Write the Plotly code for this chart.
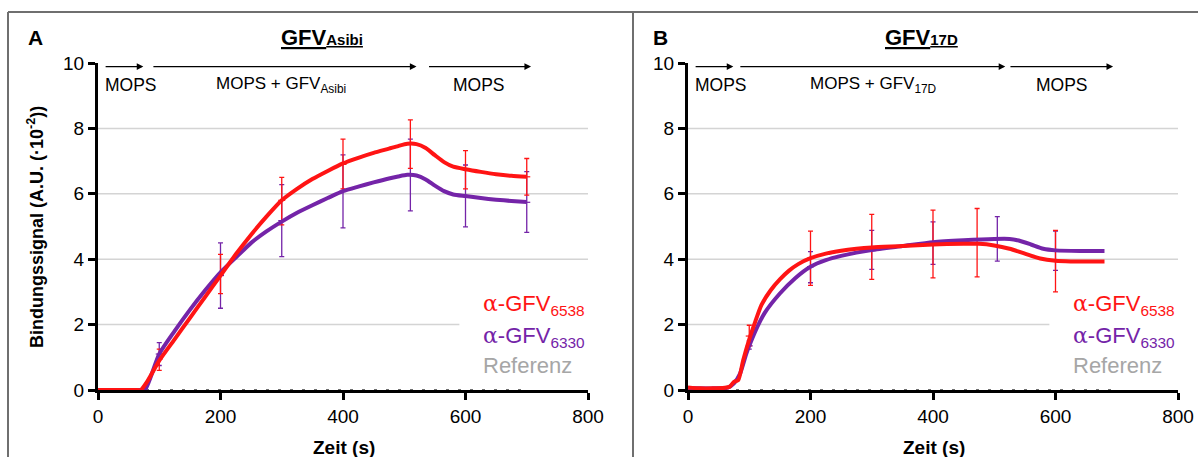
import numpy as np
import plotly.graph_objects as go

# ---------------- data ----------------
# Panel A (GFV Asibi)
a_red_t = [0, 20, 40, 60, 70, 80, 100, 125, 150, 175, 200, 225, 250, 275, 300, 325, 350, 375, 400,
           425, 450, 475, 490, 505, 520, 535, 550, 565, 580, 600, 625, 650, 675, 700]
a_red_v = [0, 0, 0, 0, 0, 0.25, 0.9, 1.55, 2.2, 2.85, 3.5, 4.15, 4.75, 5.3, 5.8, 6.15, 6.45, 6.7, 6.93,
           7.1, 7.25, 7.38, 7.46, 7.53, 7.52, 7.4, 7.18, 6.97, 6.83, 6.75, 6.67, 6.6, 6.55, 6.52]
a_pur_t = [0, 40, 70, 78, 100, 125, 150, 175, 200, 225, 250, 275, 300, 325, 350, 375, 400,
           425, 450, 475, 490, 505, 520, 535, 550, 565, 580, 600, 625, 650, 675, 700]
a_pur_v = [0, 0, 0, 0.05, 1.1, 1.8, 2.45, 3.05, 3.6, 4.05, 4.5, 4.85, 5.15, 5.42, 5.65, 5.87, 6.08,
           6.22, 6.35, 6.47, 6.53, 6.58, 6.56, 6.44, 6.25, 6.08, 5.98, 5.93, 5.87, 5.82, 5.78, 5.75]

a_red_err_t = [100, 200, 300, 400, 510, 600, 700]
a_red_err_c = [0.95, 3.55, 5.8, 6.9, 7.52, 6.75, 6.52]
a_red_err_lo = [0.6, 2.95, 5.05, 6.15, 6.78, 6.15, 5.96]
a_red_err_hi = [1.25, 4.15, 6.5, 7.67, 8.26, 7.32, 7.08]
a_pur_err_t = [100, 200, 300, 400, 510, 600, 700]
a_pur_err_c = [1.1, 3.5, 5.18, 6.08, 6.57, 5.94, 5.74]
a_pur_err_lo = [0.75, 2.5, 4.08, 4.96, 5.48, 4.99, 4.82]
a_pur_err_hi = [1.45, 4.5, 6.28, 7.19, 7.67, 6.88, 6.68]

# Panel B (GFV 17D)
b_red_t = [0, 20, 40, 60, 68, 75, 82, 90, 100, 110, 120, 135, 150, 165, 180, 200, 225, 250, 275, 300,
           350, 400, 450, 475, 500, 525, 550, 575, 600, 625, 650, 680]
b_red_v = [0.08, 0.05, 0.05, 0.07, 0.1, 0.25, 0.3, 0.9, 1.55, 2.1, 2.6, 3.05, 3.38, 3.65, 3.85, 4.03,
           4.17, 4.26, 4.32, 4.36, 4.4, 4.45, 4.47, 4.47, 4.42, 4.32, 4.17, 4.02, 3.95, 3.93, 3.93, 3.93]
b_pur_t = [0, 40, 65, 75, 85, 95, 100, 110, 125, 150, 175, 200, 225, 250, 275, 300, 350, 400, 450,
           500, 525, 540, 560, 580, 600, 640, 680]
b_pur_v = [0.06, 0.05, 0.07, 0.2, 0.5, 1.1, 1.35, 1.8, 2.35, 2.95, 3.42, 3.77, 3.97, 4.1, 4.2, 4.28,
           4.4, 4.52, 4.58, 4.62, 4.62, 4.57, 4.45, 4.32, 4.27, 4.25, 4.25]

b_red_err_t = [100, 200, 300, 400, 472, 600]
b_red_err_c = [1.65, 4.03, 4.37, 4.46, 4.5, 3.94]
b_red_err_lo = [1.35, 3.2, 3.38, 3.43, 3.46, 3.0]
b_red_err_hi = [1.98, 4.86, 5.37, 5.5, 5.55, 4.88]
b_pur_err_t = [100, 200, 300, 400, 505, 600]
b_pur_err_c = [1.35, 3.77, 4.28, 4.5, 4.62, 4.26]
b_pur_err_lo = [1.25, 3.28, 3.69, 3.84, 3.94, 3.66]
b_pur_err_hi = [1.5, 4.23, 4.88, 5.14, 5.3, 4.86]

ref_t = [0, 700]
ref_v = [0, 0]

x_ticks = [0, 200, 400, 600, 800]
y_ticks = [0, 2, 4, 6, 8, 10]

# ---------------- styling ----------------
RED = "#ff1414"
PURPLE = "#7424a8"
GRAY = "#a6a6a6"
FONT = "Liberation Sans, Arial, sans-serif"
ALPHA = "<span style='font-family:DejaVu Serif, Liberation Serif, serif'>α</span>"

W, H = 1198, 457
xa = (98 / W, 588 / W)
xb = (688 / W, 1178 / W)
yd = (1 - 390 / H, 1 - 63 / H)

fig = go.Figure()


def add_panel(xref, yref, red_t, red_v, pur_t, pur_v, pe, re_):
    fig.add_trace(go.Scatter(x=ref_t, y=ref_v, mode="lines", xaxis=xref, yaxis=yref,
                             line=dict(color="#6e6e6e", width=2, dash="3px,9px"), showlegend=False))
    for (t, c, lo, hi), col in ((pe, PURPLE), (re_, RED)):
        c = np.array(c); lo = np.array(lo); hi = np.array(hi)
        fig.add_trace(go.Scatter(x=t, y=c, mode="markers", xaxis=xref, yaxis=yref,
                                 marker=dict(symbol="line-ew-open", size=5, color=col, line=dict(width=1.2, color=col)),
                                 error_y=dict(type="data", symmetric=False, array=hi - c, arrayminus=c - lo,
                                              color=col, thickness=1.3, width=2.5),
                                 showlegend=False))
    fig.add_trace(go.Scatter(x=pur_t, y=pur_v, mode="lines", xaxis=xref, yaxis=yref,
                             line=dict(color=PURPLE, width=4, shape="spline", smoothing=0.6), showlegend=False))
    fig.add_trace(go.Scatter(x=red_t, y=red_v, mode="lines", xaxis=xref, yaxis=yref,
                             line=dict(color=RED, width=4, shape="spline", smoothing=0.6), showlegend=False))


add_panel("x", "y", a_red_t, a_red_v, a_pur_t, a_pur_v,
          (a_pur_err_t, a_pur_err_c, a_pur_err_lo, a_pur_err_hi),
          (a_red_err_t, a_red_err_c, a_red_err_lo, a_red_err_hi))
add_panel("x2", "y2", b_red_t, b_red_v, b_pur_t, b_pur_v,
          (b_pur_err_t, b_pur_err_c, b_pur_err_lo, b_pur_err_hi),
          (b_red_err_t, b_red_err_c, b_red_err_lo, b_red_err_hi))

axis_common = dict(showline=True, linewidth=3, linecolor="black", ticks="outside", ticklen=7,
                   tickwidth=2.5, tickcolor="black", showgrid=False, zeroline=False, automargin=False,
                   tickfont=dict(family=FONT, size=19, color="black"), layer="below traces", fixedrange=True)

fig.update_layout(
    width=W, height=H, autosize=False, margin=dict(l=0, r=0, t=0, b=0, pad=0, autoexpand=False),
    paper_bgcolor="white", plot_bgcolor="white", showlegend=False,
    font=dict(family=FONT, color="black"),
    xaxis=dict(domain=xa, range=[0, 800], tickvals=x_ticks, anchor="y", **axis_common),
    yaxis=dict(domain=yd, range=[0, 10], tickvals=y_ticks, anchor="x", **axis_common),
    xaxis2=dict(domain=xb, range=[0, 800], tickvals=x_ticks, anchor="y2", **axis_common),
    yaxis2=dict(domain=yd, range=[0, 10], tickvals=y_ticks, anchor="x2", **axis_common),
)

shapes = []
for xr, yr in (("x", "y"), ("x2", "y2")):
    for g in [4, 6, 8]:
        shapes.append(dict(type="line", xref=xr, yref=yr, x0=0, x1=800, y0=g, y1=g,
                           line=dict(color="#d4d4d4", width=1.5), layer="below"))
    shapes.append(dict(type="line", xref=xr, yref=yr, x0=0, x1=590, y0=2, y1=2,
                       line=dict(color="#d4d4d4", width=1.5), layer="below"))
shapes.append(dict(type="line", xref="paper", yref="paper", x0=8 / W, x1=1, y0=1 - 12 / H, y1=1 - 12 / H,
                   line=dict(color="#6f6f6f", width=2)))
shapes.append(dict(type="line", xref="paper", yref="paper", x0=8 / W, x1=8 / W, y0=0, y1=1 - 12 / H,
                   line=dict(color="#6f6f6f", width=2)))
shapes.append(dict(type="line", xref="paper", yref="paper", x0=633 / W, x1=633 / W, y0=0, y1=1 - 12 / H,
                   line=dict(color="#6f6f6f", width=2)))
fig.update_layout(shapes=shapes)

ann = []


def arrow(xr, yr, x0, x1, y=9.89):
    ann.append(dict(xref=xr, yref=yr, axref=xr, ayref=yr, x=x1, y=y, ax=x0, ay=y, text="",
                    showarrow=True, arrowhead=2, arrowsize=1.1, arrowwidth=1.2, arrowcolor="black"))


def label(xr, yr, x, y, text, xanchor="center", size=17, color="black"):
    ann.append(dict(xref=xr, yref=yr, x=x, y=y, text=text, showarrow=False, xanchor=xanchor,
                    yanchor="middle", font=dict(family=FONT, size=size, color=color)))


arrow("x", "y", 10, 74)
arrow("x", "y", 88, 520)
arrow("x", "y", 538, 707)
label("x", "y", 8, 9.33, "MOPS", xanchor="left", size=17.5)
label("x", "y", 299, 9.33, "MOPS + GFV<sub>Asibi</sub>")
label("x", "y", 622, 9.33, "MOPS", size=17.5)
arrow("x2", "y2", 10, 74)
arrow("x2", "y2", 83, 518)
arrow("x2", "y2", 524, 694)
label("x2", "y2", 8, 9.33, "MOPS", xanchor="left", size=17.5)
label("x2", "y2", 303, 9.33, "MOPS + GFV<sub>17D</sub>")
label("x2", "y2", 611, 9.33, "MOPS", size=17.5)

for xr, yr in (("x", "y"), ("x2", "y2")):
    label(xr, yr, 626, 2.60, ALPHA + "-GFV<sub>6538</sub>", xanchor="left", size=22, color=RED)
    label(xr, yr, 626, 1.62, ALPHA + "-GFV<sub>6330</sub>", xanchor="left", size=22, color=PURPLE)
    label(xr, yr, 626, 0.75, "Referenz", xanchor="left", size=22, color=GRAY)

label("paper", "paper", 35 / W, 1 - 38 / H, "<b>A</b>", size=21)
label("paper", "paper", 660 / W, 1 - 38 / H, "<b>B</b>", size=21)
label("paper", "paper", 322 / W, 1 - 37 / H,
      "<b><u>GFV<span style='font-size:15px'>Asibi</span></u></b>", size=22)
label("paper", "paper", 921 / W, 1 - 37 / H,
      "<b><u>GFV<span style='font-size:15px'>17D</span></u></b>", size=22)

label("paper", "paper", 344 / W, 1 - 447 / H, "<b>Zeit (s)</b>", size=19)
label("paper", "paper", 934 / W, 1 - 447 / H, "<b>Zeit (s)</b>", size=19)
ann.append(dict(xref="paper", yref="paper", x=35 / W, y=1 - 227 / H,
                text="<b>Bindungssignal (A.U. (·10<sup>-2</sup>))</b>",
                showarrow=False, textangle=-90, xanchor="center", yanchor="middle",
                font=dict(family=FONT, size=18, color="black")))

fig.update_layout(annotations=ann)
fig.write_html("out.html", config={"displayModeBar": False},
               post_script="document.body.style.margin='0px';document.body.style.padding='0px';"
                           "document.documentElement.style.overflow='hidden';")
